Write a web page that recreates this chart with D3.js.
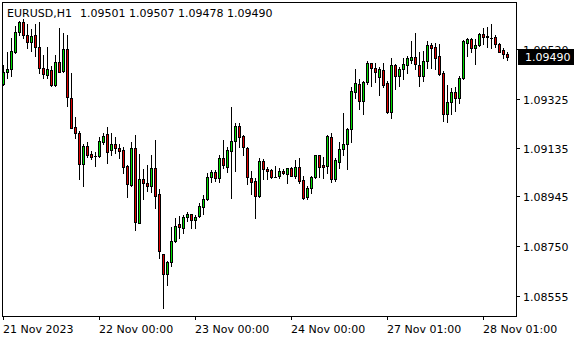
<!DOCTYPE html>
<html><head><meta charset="utf-8">
<script src="https://cdn.jsdelivr.net/npm/d3@7"></script>
<style>
html,body{margin:0;padding:0;background:#fff;}
svg{display:block;}
text{font-family:"DejaVu Sans",Verdana,sans-serif;font-size:11px;fill:#000;}
</style></head>
<body>
<svg id="c" width="580" height="340"></svg>
<script>
const symbol = "EURUSD,H1";
const lastOHLC = ["1.09501","1.09507","1.09478","1.09490"];
const open = [1.09382,1.09432,1.09441,1.09507,1.09588,1.09624,1.09577,1.09549,1.09575,1.09527,1.09445,1.09418,1.09438,1.09380,1.09468,1.09435,1.09520,1.09327,1.09214,1.09194,1.09072,1.09141,1.09110,1.09102,1.09103,1.09158,1.09188,1.09125,1.09148,1.09132,1.09125,1.09063,1.08989,1.09132,1.08841,1.09011,1.08995,1.08986,1.09054,1.08952,1.08719,1.08643,1.08689,1.08771,1.08835,1.08822,1.08862,1.08874,1.08852,1.08869,1.08904,1.08936,1.09021,1.09038,1.09015,1.09093,1.09060,1.09123,1.09162,1.09219,1.09180,1.09134,1.09018,1.09004,1.08947,1.09082,1.09051,1.09047,1.09022,1.09025,1.09043,1.09030,1.09054,1.09025,1.09058,1.09008,1.08943,1.08976,1.09021,1.09106,1.09067,1.09064,1.09175,1.09012,1.09080,1.09128,1.09151,1.09206,1.09353,1.09383,1.09318,1.09390,1.09464,1.09445,1.09412,1.09438,1.09386,1.09275,1.09458,1.09416,1.09442,1.09458,1.09477,1.09488,1.09458,1.09416,1.09473,1.09536,1.09527,1.09493,1.09425,1.09266,1.09312,1.09351,1.09330,1.09408,1.09545,1.09559,1.09525,1.09536,1.09579,1.09570,1.09563,1.09566,1.09540,1.09516,1.09501];
const high = [1.09458,1.09510,1.09564,1.09610,1.09630,1.09636,1.09617,1.09598,1.09617,1.09624,1.09497,1.09527,1.09455,1.09497,1.09601,1.09581,1.09577,1.09425,1.09254,1.09200,1.09151,1.09158,1.09121,1.09119,1.09175,1.09191,1.09214,1.09191,1.09177,1.09148,1.09138,1.09067,1.09158,1.09184,1.09110,1.09050,1.09067,1.09108,1.09164,1.08973,1.08721,1.08691,1.08826,1.08861,1.08867,1.08871,1.08884,1.08876,1.08871,1.08917,1.08949,1.09034,1.09047,1.09047,1.09106,1.09164,1.09138,1.09292,1.09230,1.09230,1.09184,1.09137,1.09043,1.09017,1.09093,1.09090,1.09060,1.09051,1.09063,1.09054,1.09051,1.09056,1.09060,1.09086,1.09093,1.09024,1.08986,1.09024,1.09108,1.09108,1.09099,1.09184,1.09194,1.09093,1.09158,1.09269,1.09213,1.09373,1.09442,1.09402,1.09395,1.09473,1.09467,1.09464,1.09451,1.09464,1.09395,1.09486,1.09460,1.09451,1.09486,1.09493,1.09551,1.09581,1.09510,1.09512,1.09551,1.09542,1.09542,1.09538,1.09435,1.09380,1.09366,1.09370,1.09415,1.09555,1.09564,1.09562,1.09559,1.09584,1.09601,1.09605,1.09617,1.09577,1.09542,1.09523,1.09507];
const low = [1.09380,1.09408,1.09416,1.09503,1.09575,1.09564,1.09525,1.09512,1.09494,1.09425,1.09408,1.09408,1.09377,1.09377,1.09429,1.09432,1.09299,1.09210,1.09174,1.09012,1.08986,1.09099,1.09090,1.09064,1.09099,1.09151,1.09076,1.09108,1.09115,1.09095,1.09037,1.08943,1.08986,1.08813,1.08839,1.08936,1.08965,1.08963,1.08900,1.08702,1.08509,1.08600,1.08673,1.08767,1.08783,1.08803,1.08848,1.08822,1.08819,1.08865,1.08874,1.08932,1.09001,1.09005,1.08999,1.09054,1.09041,1.08939,1.09045,1.09138,1.09108,1.08991,1.08952,1.08858,1.08943,1.09012,1.09011,1.09015,1.09020,1.09015,1.09032,1.08998,1.09024,1.09018,1.08998,1.08936,1.08934,1.08959,1.09017,1.09021,1.09017,1.09034,1.09001,1.09005,1.09054,1.09106,1.09051,1.09158,1.09330,1.09286,1.09266,1.09383,1.09377,1.09392,1.09340,1.09373,1.09271,1.09252,1.09364,1.09377,1.09403,1.09425,1.09464,1.09441,1.09377,1.09395,1.09445,1.09445,1.09442,1.09418,1.09239,1.09236,1.09265,1.09278,1.09310,1.09405,1.09494,1.09507,1.09462,1.09532,1.09540,1.09529,1.09523,1.09529,1.09507,1.09486,1.09478];
const close = [1.09432,1.09441,1.09512,1.09585,1.09624,1.09577,1.09546,1.09572,1.09527,1.09448,1.09424,1.09441,1.09380,1.09468,1.09432,1.09520,1.09331,1.09213,1.09194,1.09072,1.09141,1.09106,1.09099,1.09101,1.09161,1.09181,1.09119,1.09148,1.09132,1.09123,1.09060,1.08991,1.09132,1.08843,1.09011,1.08995,1.08986,1.09054,1.08947,1.08732,1.08643,1.08689,1.08771,1.08830,1.08826,1.08862,1.08874,1.08852,1.08865,1.08908,1.08936,1.09021,1.09038,1.09015,1.09093,1.09067,1.09125,1.09162,1.09219,1.09177,1.09136,1.09021,1.09001,1.08947,1.09082,1.09050,1.09045,1.09021,1.09022,1.09043,1.09034,1.09054,1.09025,1.09058,1.09005,1.08939,1.08979,1.09021,1.09106,1.09060,1.09059,1.09180,1.09012,1.09086,1.09128,1.09151,1.09207,1.09356,1.09386,1.09318,1.09390,1.09464,1.09448,1.09432,1.09442,1.09380,1.09275,1.09458,1.09416,1.09442,1.09460,1.09484,1.09488,1.09462,1.09416,1.09473,1.09536,1.09523,1.09484,1.09422,1.09266,1.09312,1.09351,1.09330,1.09408,1.09551,1.09559,1.09525,1.09536,1.09579,1.09568,1.09567,1.09562,1.09538,1.09510,1.09499,1.09490];
const priceTicks = [1.09520,1.09325,1.09135,1.08945,1.08750,1.08555];
const timeTickIndex = [0,24,48,72,96,120];
const timeTickLabels = ["21 Nov 2023","22 Nov 00:00","23 Nov 00:00","24 Nov 00:00","27 Nov 01:00","28 Nov 01:00"];
const currentPrice = 1.09490;

const L = 2, T = 2, R = 516, B = 316;
const svg = d3.select("#c");
const x = d3.scaleLinear().domain([0, 126]).range([3.5, 507.5]);
const y = d3.scaleLinear().domain([1.08477, 1.09704]).range([B, T]);
const cy = Math.round(y(currentPrice));

const defs = svg.append("defs");
defs.append("clipPath").attr("id","clip")
  .append("rect").attr("x",L).attr("y",T).attr("width",R-L).attr("height",B-T);
defs.append("clipPath").attr("id","clipLbl")
  .append("rect").attr("x",R).attr("y",0).attr("width",64).attr("height",cy-8);

const data = open.map((o,i)=>({i,o,h:high[i],l:low[i],c:close[i]}));
const g = svg.append("g").attr("clip-path","url(#clip)");
const cg = g.selectAll("g.cd").data(data).join("g").attr("class","cd");
cg.append("line")
  .attr("x1",d=>x(d.i)).attr("x2",d=>x(d.i))
  .attr("y1",d=>Math.round(y(d.h))).attr("y2",d=>Math.round(y(d.l))+1)
  .attr("stroke","#000").attr("stroke-width",1);
cg.each(function(d){
  const top = Math.round(y(Math.max(d.o,d.c)));
  const bot = Math.round(y(Math.min(d.o,d.c)));
  const h = Math.max(1, bot-top+1);
  const cx = x(d.i)-0.5;
  const s = d3.select(this);
  s.append("rect").attr("x",cx-1).attr("y",top).attr("width",3).attr("height",h).attr("fill","#000");
  if (h>2 && d.c!==d.o) {
    s.append("rect").attr("x",cx).attr("y",top+1).attr("width",1).attr("height",h-2)
      .attr("fill", d.c>d.o ? "#00dd00" : "#dd0000");
  }
});

// frame
svg.append("rect").attr("x",L+0.5).attr("y",T+0.5).attr("width",R-L).attr("height",B-T)
  .attr("fill","none").attr("stroke","#000").attr("stroke-width",1);

// right axis
const ra = svg.append("g");
priceTicks.forEach(p=>{
  const yy = Math.round(y(p))+0.5;
  ra.append("line").attr("x1",R+0.5).attr("x2",R+4).attr("y1",yy).attr("y2",yy).attr("stroke","#000");
  const t = ra.append("text").attr("x",523).attr("y",yy+4).text(p.toFixed(5));
  if (Math.abs(yy-cy) < 14) t.attr("clip-path","url(#clipLbl)");
});
ra.append("rect").attr("x",518).attr("y",cy-8).attr("width",56).attr("height",16).attr("fill","#000");
ra.append("text").attr("x",525).attr("y",cy+4).style("fill","#fff").text(currentPrice.toFixed(5));

// bottom axis
timeTickIndex.forEach((ti,k)=>{
  const xx = Math.floor(x(ti))+0.5;
  svg.append("line").attr("x1",xx).attr("x2",xx).attr("y1",B+0.5).attr("y2",B+4).attr("stroke","#000");
  svg.append("text").attr("x",xx-0.5).attr("y",333).text(timeTickLabels[k]);
});

// title
svg.append("text").attr("x",7).attr("y",17).text(symbol);
svg.append("text").attr("x",80).attr("y",17).text(lastOHLC.join(" "));
</script>
</body></html>
